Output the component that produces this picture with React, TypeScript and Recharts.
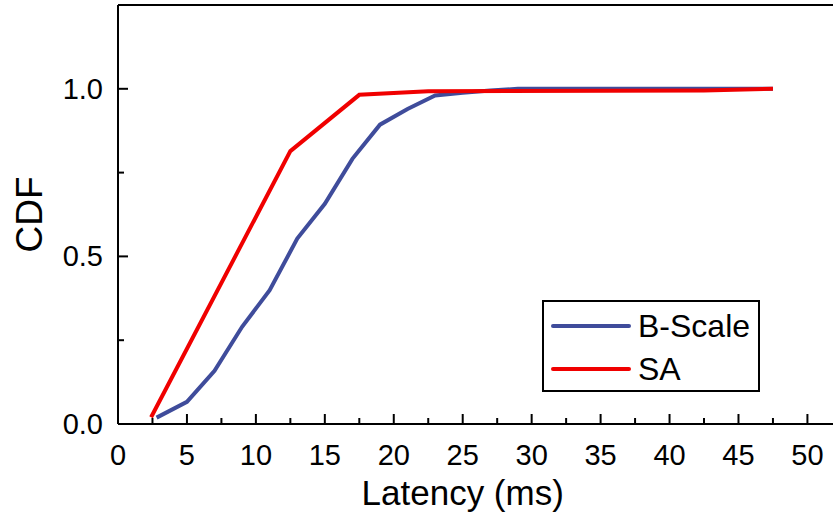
import { LineChart, Line, XAxis, YAxis, ReferenceLine } from 'recharts'

const FONT = '"Liberation Sans", Arial, sans-serif'
const BLUE = '#3f4c9b'
const RED = '#f00000'

// latency (ms) / cumulative fraction
const bScaleLatency = [2.8, 5, 7, 9, 11, 13, 15, 17, 19, 21, 23, 25, 27, 29, 47.5]
const bScaleCdf = [0.019, 0.066, 0.159, 0.29, 0.399, 0.553, 0.657, 0.791, 0.893, 0.94, 0.98, 0.988, 0.995, 1.0, 1.0]
const saLatency = [2.4, 12.5, 17.5, 22.5, 42.5, 47.5]
const saCdf = [0.02, 0.814, 0.982, 0.993, 0.995, 1.0]

const xTicks = [0, 2.5, 5, 7.5, 10, 12.5, 15, 17.5, 20, 22.5, 25, 27.5, 30, 32.5, 35, 37.5, 40, 42.5, 45, 47.5, 50]
const yTicks = [0, 0.25, 0.5, 0.75, 1.0]

const bScale = bScaleLatency.map((x, i) => ({ x, y: bScaleCdf[i] }))
const sa = saLatency.map((x, i) => ({ x, y: saCdf[i] }))

const legendRows = [
  { name: 'B-Scale', color: BLUE },
  { name: 'SA', color: RED },
]

function XTick({ x, y, payload }: any) {
  const v = payload.value as number
  const major = v % 5 === 0
  return (
    <g>
      <line x1={x} x2={x} y1={y} y2={y - (major ? 10 : 6)} stroke="#000" strokeWidth={2} />
      {major && (
        <text x={x} y={y + 41} textAnchor="middle" fontSize={29} fontFamily={FONT} fill="#000">
          {v}
        </text>
      )}
    </g>
  )
}

function YTick({ x, y, payload }: any) {
  const v = payload.value as number
  const major = Math.abs((v * 2) % 1) < 1e-9
  return (
    <g>
      <line x1={x} x2={x + (major ? 10 : 6)} y1={y} y2={y} stroke="#000" strokeWidth={2} />
      {major && (
        <text x={x - 15} y={y + 10} textAnchor="end" fontSize={29} fontFamily={FONT} fill="#000">
          {v.toFixed(1)}
        </text>
      )}
    </g>
  )
}

function LegendBox() {
  return (
    <div
      style={{
        position: 'absolute',
        left: 542,
        top: 300,
        width: 214,
        height: 88,
        border: '2px solid #000',
        background: '#fff',
        fontFamily: FONT,
        fontSize: 32,
      }}
    >
      {legendRows.map((r, i) => (
        <div
          key={r.name}
          style={{ position: 'absolute', left: 7, top: 4 + i * 43, height: 40, display: 'flex', alignItems: 'center' }}
        >
          <svg width={80} height={8}>
            <line x1={2} x2={78} y1={4} y2={4} stroke={r.color} strokeWidth={4} strokeLinecap="round" />
          </svg>
          <span style={{ marginLeft: 7, lineHeight: '40px' }}>{r.name}</span>
        </div>
      ))}
    </div>
  )
}

export default function App() {
  return (
    <div
      style={{
        position: 'absolute',
        left: 0,
        top: 0,
        width: 833,
        height: 515,
        overflow: 'hidden',
        background: '#fff',
      }}
    >
      <LineChart width={835} height={515} margin={{ top: 5, right: 0, bottom: 0, left: 0 }}>
        <XAxis
          type="number"
          dataKey="x"
          domain={[0, 52]}
          ticks={xTicks}
          interval={0}
          tickSize={0}
          tickMargin={0}
          tickLine={false}
          tick={<XTick />}
          height={91}
          axisLine={{ stroke: '#000', strokeWidth: 2 }}
          label={({ viewBox }: any) => (
            <text
              x={viewBox.x + (viewBox.width * 25) / 52}
              y={505}
              textAnchor="middle"
              fontSize={35}
              fontFamily={FONT}
              fill="#000"
            >
              Latency (ms)
            </text>
          )}
        />
        <YAxis
          type="number"
          dataKey="y"
          domain={[0, 1.25]}
          ticks={yTicks}
          interval={0}
          tickSize={0}
          tickMargin={0}
          tickLine={false}
          tick={<YTick />}
          width={118}
          axisLine={{ stroke: '#000', strokeWidth: 2 }}
          label={({ viewBox }: any) => (
            <text
              x={0}
              y={0}
              transform={`translate(42, ${viewBox.y + viewBox.height / 2}) rotate(-90)`}
              textAnchor="middle"
              fontSize={37}
              fontFamily={FONT}
              fill="#000"
            >
              CDF
            </text>
          )}
        />
        <ReferenceLine y={1.25} stroke="#000" strokeWidth={2} />
        <Line
          data={bScale}
          dataKey="y"
          name="B-Scale"
          stroke={BLUE}
          strokeWidth={4}
          dot={false}
          isAnimationActive={false}
        />
        <Line
          data={sa}
          dataKey="y"
          name="SA"
          stroke={RED}
          strokeWidth={4}
          dot={false}
          isAnimationActive={false}
        />
      </LineChart>
      <LegendBox />
    </div>
  )
}
